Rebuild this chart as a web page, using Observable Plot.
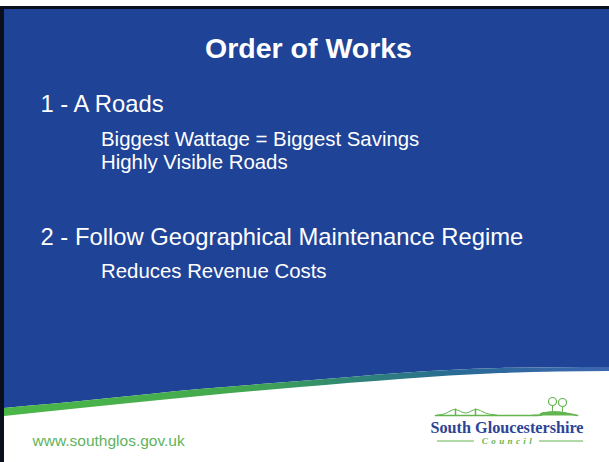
<!DOCTYPE html>
<html>
<head>
<meta charset="utf-8">
<script src="https://cdn.jsdelivr.net/npm/d3@7"></script>
<script src="https://cdn.jsdelivr.net/npm/@observablehq/plot@0.6"></script>
<style>
  html, body { margin: 0; padding: 0; background: white; overflow: hidden; }
  svg { display: block; }
</style>
</head>
<body>
<div id="chart"></div>
<script>
// ---- content ----
const titleText = ["Order of Works"];
const itemTexts = [
  "1 - A Roads",
  "Biggest Wattage = Biggest Savings",
  "Highly Visible Roads",
  "2 - Follow Geographical Maintenance Regime",
  "Reduces Revenue Costs"
];
const itemLevels = [1, 2, 2, 1, 2];
const itemBaselines = [111.5, 145, 168, 244, 277];
const footerText = ["www.southglos.gov.uk"];
const logoName = ["South Gloucestershire"];
const logoSub = ["Council"];

// ---- decorative wave (slide background shape) ----
const waveX      = [4,   100, 200, 300, 400, 500, 609];
const waveBlue   = [408, 399, 389, 381, 373, 368, 367];
const waveBand   = [416, 406, 396, 387, 379, 373, 371];

// ---- logo drawing points ----
const bridgeX = [435, 530, 540, 552, 565, 577];
const bridgeY = [415, 415, 413.5, 411.5, 412.5, 415];
const cableX = [437, 446, 455, 465, 475, 485, 496];
const cableY = [414.5, 412.5, 409, 412.5, 409, 412.5, 414.5];
const towerX = [455, 475];
const treeX = [552, 562];
const treeY = [401, 402];

const blue = "#1f4397";

const wave = waveX.map((x, i) => ({x, top: 9, blue: waveBlue[i], band: waveBand[i]}));
const items = itemTexts.map((t, i) => ({text: t, level: itemLevels[i], y: itemBaselines[i]}));
const bridge = bridgeX.map((x, i) => ({x, y: bridgeY[i]}));
const cable = cableX.map((x, i) => ({x, y: cableY[i]}));
const trees = treeX.map((x, i) => ({x, y: treeY[i]}));

const chart = Plot.plot({
  width: 609,
  height: 462,
  margin: 0,
  x: {domain: [0, 609], range: [0, 609], axis: null},
  y: {domain: [0, 462], range: [0, 462], axis: null},
  style: {background: "white"},
  marks: [
    // frame borders
    Plot.rect([{x1: 0, x2: 609, y1: 6, y2: 9}], {x1: "x1", x2: "x2", y1: "y1", y2: "y2", fill: "#0a0f1e"}),
    Plot.rect([{x1: 0, x2: 4, y1: 6, y2: 462}], {x1: "x1", x2: "x2", y1: "y1", y2: "y2", fill: "#0a0f1e"}),
    // blue panel with wavy bottom
    Plot.areaY(wave, {x: "x", y1: "top", y2: "blue", fill: blue, curve: "natural"}),
    // green -> teal band under the wave
    Plot.areaY(wave, {x: "x", y1: "blue", y2: "band", fill: "url(#bandGrad)", curve: "natural"}),
    // title
    Plot.text(titleText, {x: 308, y: 57, text: d => d, fill: "white", fontSize: 28.5, fontWeight: "bold",
      fontFamily: "Liberation Sans, Arial, sans-serif", textAnchor: "middle", lineAnchor: "bottom"}),
    // bullet items
    Plot.text(items, {x: d => d.level === 1 ? 40 : 100.5, y: "y", text: "text", fill: "white",
      fontSize: d => d.level === 1 ? 23.8 : 20.4,
      fontFamily: "Liberation Sans, Arial, sans-serif", textAnchor: "start", lineAnchor: "bottom"}),
    // footer url
    Plot.text(footerText, {x: 32, y: 445, text: d => d, fill: "#5fb35c", fontSize: 15.5,
      fontFamily: "Liberation Sans, Arial, sans-serif", textAnchor: "start", lineAnchor: "bottom"}),
    // logo graphic
    Plot.areaY(bridge, {x: "x", y1: 415.5, y2: "y", fill: "#62b54f", curve: "natural"}),
    Plot.line(bridge, {x: "x", y: "y", stroke: "#62b54f", strokeWidth: 1.6, curve: "natural"}),
    Plot.line(cable, {x: "x", y: "y", stroke: "#62b54f", strokeWidth: 1, curve: "natural"}),
    Plot.ruleX(towerX, {x: d => d, y1: 408.5, y2: 415, stroke: "#62b54f", strokeWidth: 1.5}),
    Plot.ruleX(trees, {x: "x", y1: d => d.y + 3, y2: 412, stroke: "#62b54f", strokeWidth: 1}),
    Plot.dot(trees, {x: "x", y: "y", r: 4, stroke: "#62b54f", strokeWidth: 1.2, fill: "white"}),
    Plot.text(logoName, {x: 430, y: 432.5, text: d => d, fill: "#2d4494", fontSize: 16.2, fontWeight: "bold",
      fontFamily: "Liberation Serif, Times New Roman, serif", textAnchor: "start", lineAnchor: "bottom"}),
    Plot.text(logoSub, {x: 508, y: 443.5, text: d => d, fill: "#62b54f", fontSize: 9, fontStyle: "italic",
      fontWeight: "bold", fontFamily: "Liberation Serif, serif", textAnchor: "middle", lineAnchor: "bottom",
      className: "council"}),
    Plot.ruleY([{a: 437, b: 474}, {a: 539, b: 583}], {y: 440.5, x1: "a", x2: "b", stroke: "#62b54f", strokeWidth: 1})
  ]
});

const svg = d3.select(chart);
const defs = svg.insert("defs", ":first-child");
const grad = defs.append("linearGradient").attr("id", "bandGrad")
  .attr("gradientUnits", "userSpaceOnUse").attr("x1", 0).attr("x2", 609).attr("y1", 0).attr("y2", 0);
[[0, "#4cb848"], [0.4, "#42a84f"], [0.58, "#2f8576"], [0.75, "#2a6a96"], [1, "#3d66b0"]]
  .forEach(([o, c]) => grad.append("stop").attr("offset", o).attr("stop-color", c));

// letter-spaced "Council"
svg.selectAll("text").filter(function () { return this.textContent === "Council"; })
  .attr("letter-spacing", 3.4);

document.getElementById("chart").appendChild(chart);
</script>
</body>
</html>
